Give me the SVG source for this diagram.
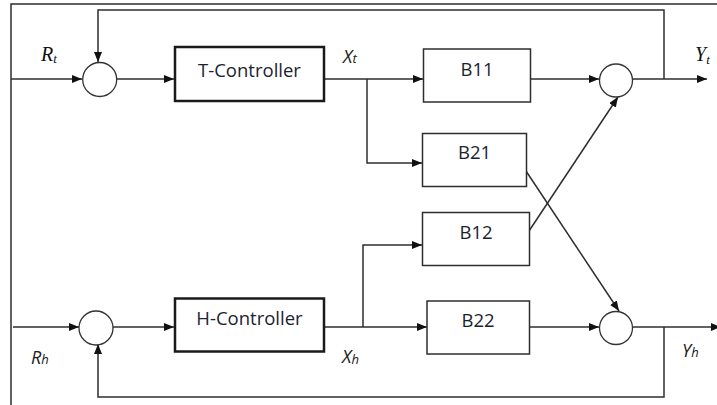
<svg xmlns="http://www.w3.org/2000/svg" width="717" height="405" viewBox="0 0 717 405">
<style>
.ln{fill:none;stroke:#2e2e2e;stroke-width:1.5}
.blk{fill:#fff;stroke:#2e2e2e;stroke-width:1.5}
.ctl{fill:#fff;stroke:#1a1a1a;stroke-width:2.5}
.sum{fill:#fff;stroke:#333;stroke-width:1.3}
.bl{font-family:"Open Sans","Noto Sans",sans-serif;font-size:18.5px;fill:#1c2330;text-anchor:middle}
.ser{font-family:"Liberation Serif",serif;font-style:italic;fill:#111;font-size:20px}
.san{font-family:"Open Sans","Noto Sans",sans-serif;font-style:italic;fill:#1a1a1a;font-size:18px}
.sb{font-size:13px}
</style>
<defs>
<marker id="ah" markerUnits="userSpaceOnUse" markerWidth="11" markerHeight="9" refX="10" refY="4" orient="auto">
<path d="M0,0 L10,4 L0,8 z" fill="#111"/>
</marker>
</defs>
<rect width="717" height="405" fill="#fff"/>
<g id="frame"><path class="ln" d="M11,405 V4 H717" stroke="#222"/></g>

<g id="connectors">
<path class="ln" d="M11,79 H82" marker-end="url(#ah)"/>
<path class="ln" d="M664,79 V10 H98 V62" marker-end="url(#ah)"/>
<path class="ln" d="M117,79 H174" marker-end="url(#ah)"/>
<path class="ln" d="M324,79 H423" marker-end="url(#ah)"/>
<path class="ln" d="M367,79 V163 H422" marker-end="url(#ah)"/>
<path class="ln" d="M530,79 H599" marker-end="url(#ah)"/>
<path class="ln" d="M633,79 H707" marker-end="url(#ah)"/>
<path class="ln" d="M13,327 H79" marker-end="url(#ah)"/>
<path class="ln" d="M664,327 V397 H98 V344" marker-end="url(#ah)"/>
<path class="ln" d="M113,327 H174" marker-end="url(#ah)"/>
<path class="ln" d="M324,327 H427" marker-end="url(#ah)"/>
<path class="ln" d="M363,327 V245 H422" marker-end="url(#ah)"/>
<path class="ln" d="M529,327 H599" marker-end="url(#ah)"/>
<path class="ln" d="M633,327 H721" marker-end="url(#ah)"/>
<path class="ln" d="M526,171 L619,311" marker-end="url(#ah)"/>
<path class="ln" d="M529,231 L618,97" marker-end="url(#ah)"/>
</g>

<g id="sum-t"><circle class="sum" cx="99.7" cy="79.5" r="17"/></g>
<g id="sum-h"><circle class="sum" cx="96" cy="328" r="17"/></g>
<g id="sum-yt"><circle class="sum" cx="616" cy="80.5" r="16.5"/></g>
<g id="sum-yh"><circle class="sum" cx="616" cy="328" r="16.5"/></g>

<g id="t-controller"><rect class="ctl" x="175" y="47" width="149" height="54"/><text class="bl" x="249.5" y="77">T-Controller</text></g>
<g id="h-controller"><rect class="ctl" x="175" y="298.5" width="149" height="53"/><text class="bl" x="249.5" y="325">H-Controller</text></g>
<g id="b11"><rect class="blk" x="423.5" y="49" width="107" height="53"/><text class="bl" x="477" y="76">B11</text></g>
<g id="b21"><rect class="blk" x="422.5" y="133.5" width="104" height="53"/><text class="bl" x="474.5" y="159">B21</text></g>
<g id="b12"><rect class="blk" x="422.5" y="212.5" width="107" height="53"/><text class="bl" x="476" y="239">B12</text></g>
<g id="b22"><rect class="blk" x="427" y="301" width="102.5" height="53"/><text class="bl" x="478" y="327">B22</text></g>

<g id="labels">
<text class="ser" x="41" y="61">R<tspan class="sb" dy="2">t</tspan></text>
<text class="ser" x="695" y="61">Y<tspan class="sb" dy="3">t</tspan></text>
<text class="san" x="343" y="63">X<tspan class="sb">t</tspan></text>
<text class="san" x="342" y="363">X<tspan class="sb" dy="1">h</tspan></text>
<text class="san" x="31" y="364" fill="#2a3348">R<tspan class="sb">h</tspan></text>
<text class="san" x="682" y="357" fill="#2a3348">Y<tspan class="sb">h</tspan></text>
</g>
</svg>
